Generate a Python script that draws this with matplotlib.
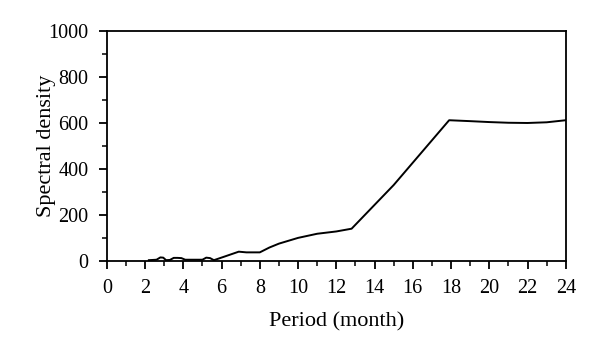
import matplotlib
matplotlib.use("Agg")
import matplotlib.pyplot as plt
from matplotlib.ticker import MultipleLocator

period = [2.2, 2.6, 2.8, 2.95, 3.1, 3.3, 3.5, 3.7, 3.9, 4.1, 5.0, 5.2, 5.4, 5.6,
          6.2, 6.9, 7.3, 8.0, 8.5, 9.0, 10.0, 11.0, 12.0, 12.8, 15.0, 17.9,
          19.0, 20.0, 21.0, 22.0, 23.0, 24.0]
density = [3, 5, 15, 14, 3, 4, 13, 13, 12, 5, 5, 14, 12, 3,
           20, 40, 37, 37, 58, 75, 100, 118, 128, 140, 330, 612,
           608, 604, 601, 600, 603, 612]

plt.rcParams["font.family"] = "Liberation Serif"

fig = plt.figure(figsize=(6, 3.53), dpi=100)
ax = fig.add_axes([0.178, 0.261, 0.765, 0.651])
ax.plot(period, density, color="black", linewidth=1.4)

ax.set_xlim(0, 24)
ax.set_ylim(0, 1000)
ax.xaxis.set_major_locator(MultipleLocator(2))
ax.xaxis.set_minor_locator(MultipleLocator(1))
ax.yaxis.set_major_locator(MultipleLocator(200))
ax.yaxis.set_minor_locator(MultipleLocator(100))
ax.tick_params(which="major", direction="out", length=6, width=1.3,
               labelsize=14.5, pad=7)
ax.tick_params(which="minor", direction="out", length=3.5, width=1.1)
for s in ax.spines.values():
    s.set_linewidth(1.3)

ax.set_xlabel("Period (month)", fontsize=16, labelpad=10)
ax.set_ylabel("Spectral density", fontsize=16, labelpad=-5)

fig.savefig("out.png", dpi=100)
